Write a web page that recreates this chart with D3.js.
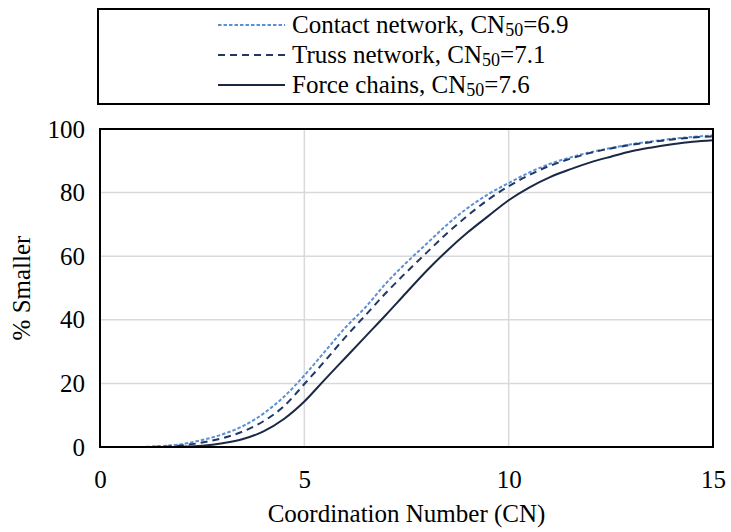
<!DOCTYPE html>
<html>
<head>
<meta charset="utf-8">
<script src="https://cdn.jsdelivr.net/npm/d3@7"></script>
<style>
  html, body { margin: 0; padding: 0; background: #fff; }
  svg { display: block; }
</style>
</head>
<body>
<svg id="chart" width="731" height="532"></svg>
<script>
// Coordination number sampling points
const cn = [1, 1.5, 2, 2.5, 3, 3.5, 4, 4.5, 5, 5.5, 6, 6.5, 7, 7.5, 8, 8.5, 9, 9.5, 10, 10.5, 11, 11.5, 12, 12.5, 13, 13.5, 14, 14.5, 15];

// Cumulative distribution (% smaller) for each network
const contactNetwork = [0, 0.3, 0.9, 2.2, 4, 6.6, 10.5, 15.8, 22.5, 30, 37.5, 44, 51.5, 58, 64, 70, 75.2, 79.5, 83, 86.3, 89, 91, 92.7, 94, 95.2, 96.1, 96.9, 97.5, 98];
const trussNetwork   = [0, 0.1, 0.5, 1.4, 2.8, 4.9, 8.1, 12.8, 19.8, 27, 34.5, 41.5, 48.5, 55, 61.2, 67.3, 72.8, 77.8, 82, 85.5, 88.4, 90.6, 92.5, 93.9, 95, 95.9, 96.7, 97.3, 97.7];
const forceChains    = [0, 0, 0.1, 0.4, 1.2, 2.5, 4.9, 8.8, 14.3, 21.2, 28, 34.8, 41.6, 48.6, 55.5, 61.8, 67.5, 72.6, 77.6, 81.6, 84.8, 87.3, 89.5, 91.3, 93, 94.2, 95.2, 96, 96.5];

const seriesNames = ["Contact network", "Truss network", "Force chains"];
const cn50 = ["6.9", "7.1", "7.6"];

const xTicks = [0, 5, 10, 15];
const yTicks = [0, 20, 40, 60, 80, 100];

const FONT = "Liberation Serif";

const styles = [
  { color: "#5b8fd6", dash: "3.5,2",  width: 2 },
  { color: "#1f3864", dash: "7,5",    width: 2 },
  { color: "#1b2845", dash: null,     width: 2 }
];

const svg = d3.select("#chart");
const plot = { left: 100, right: 713, top: 129, bottom: 447 };

const x = d3.scaleLinear().domain([0, 15]).range([plot.left, plot.right]);
const y = d3.scaleLinear().domain([0, 100]).range([plot.bottom, plot.top]);

// gridlines
const grid = svg.append("g");
grid.selectAll("line.h").data(yTicks.filter(d => d > 0 && d < 100)).enter().append("line")
  .attr("x1", plot.left).attr("x2", plot.right)
  .attr("y1", d => y(d)).attr("y2", d => y(d))
  .attr("stroke", "#d9d9d9").attr("stroke-width", 1.5);
grid.selectAll("line.v").data(xTicks.filter(d => d > 0 && d < 15)).enter().append("line")
  .attr("y1", plot.top).attr("y2", plot.bottom)
  .attr("x1", d => x(d)).attr("x2", d => x(d))
  .attr("stroke", "#d9d9d9").attr("stroke-width", 1.5);

// series
const allSeries = [contactNetwork, trussNetwork, forceChains];
const line = d3.line()
  .x((d, i) => x(cn[i]))
  .y(d => y(d))
  .curve(d3.curveMonotoneX);

svg.append("clipPath").attr("id", "plotClip")
  .append("rect").attr("x", plot.left).attr("y", plot.top - 2)
  .attr("width", plot.right - plot.left).attr("height", plot.bottom - plot.top + 2);

allSeries.forEach((vals, k) => {
  svg.append("path")
    .datum(vals)
    .attr("d", line)
    .attr("fill", "none")
    .attr("stroke", styles[k].color)
    .attr("stroke-width", styles[k].width)
    .attr("stroke-dasharray", styles[k].dash)
    .attr("clip-path", "url(#plotClip)");
});

// plot frame
svg.append("rect")
  .attr("x", plot.left).attr("y", plot.top)
  .attr("width", plot.right - plot.left).attr("height", plot.bottom - plot.top)
  .attr("fill", "none").attr("stroke", "#000").attr("stroke-width", 2);

// axes (labels only, the frame draws the lines)
const xAxis = svg.append("g")
  .attr("transform", `translate(0,${plot.bottom + 20})`)
  .call(d3.axisBottom(x).tickValues(xTicks).tickSize(0).tickFormat(d3.format("d")));
xAxis.select(".domain").remove();
xAxis.selectAll("text")
  .style("font-family", FONT).style("font-size", "25px").attr("fill", "#000");

const yAxis = svg.append("g")
  .attr("transform", `translate(${plot.left - 15},0)`)
  .call(d3.axisLeft(y).tickValues(yTicks).tickSize(0).tickFormat(d3.format("d")));
yAxis.select(".domain").remove();
yAxis.selectAll("text")
  .style("font-family", FONT).style("font-size", "25px").attr("fill", "#000").attr("x", 0);

// axis titles
svg.append("text")
  .attr("x", (plot.left + plot.right) / 2).attr("y", 522)
  .attr("text-anchor", "middle")
  .style("font-family", FONT).style("font-size", "25px")
  .text("Coordination Number (CN)");

svg.append("text")
  .attr("transform", `translate(30,${(plot.top + plot.bottom) / 2}) rotate(-90)`)
  .attr("text-anchor", "middle")
  .style("font-family", FONT).style("font-size", "25px")
  .text("% Smaller");

// legend
const legend = svg.append("g");
legend.append("rect")
  .attr("x", 98).attr("y", 9).attr("width", 611).attr("height", 95)
  .attr("fill", "#fff").attr("stroke", "#000").attr("stroke-width", 2);

const rowY = [33, 63, 93];
seriesNames.forEach((name, k) => {
  legend.append("line")
    .attr("x1", 218).attr("x2", 285)
    .attr("y1", rowY[k] - 8).attr("y2", rowY[k] - 8)
    .attr("stroke", styles[k].color)
    .attr("stroke-width", styles[k].width)
    .attr("stroke-dasharray", styles[k].dash);
  const t = legend.append("text")
    .attr("x", 292).attr("y", rowY[k])
    .style("font-family", FONT).style("font-size", "25px");
  t.append("tspan").text(name + ", CN");
  t.append("tspan").style("font-size", "18px").attr("dy", 3).text("50");
  t.append("tspan").attr("dy", -3).text("=" + cn50[k]);
});
</script>
</body>
</html>
